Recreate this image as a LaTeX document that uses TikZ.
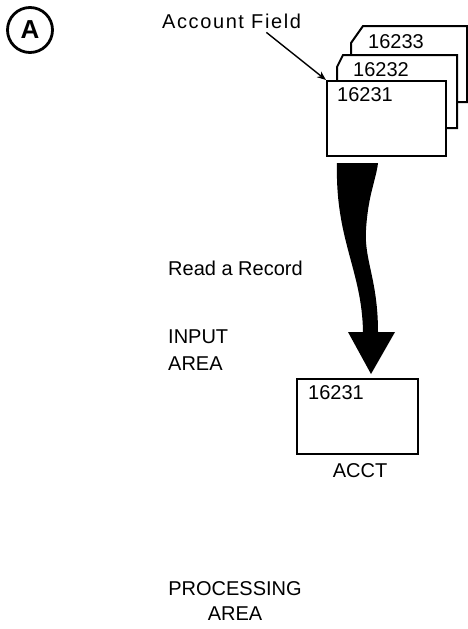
\documentclass[tikz,border=0pt]{standalone}
\usepackage{fontspec}
\setmainfont{Liberation Sans}
\usepackage{tikz}
\usetikzlibrary{calc,arrows.meta,positioning}

\tikzset{
  lbl/.style={inner sep=0pt, font=\fontsize{20}{25}\selectfont},
  cardline/.style={line width=2pt, fill=white, draw=black},
}

\begin{document}
\begin{tikzpicture}[x=1pt, y=-1pt]
    \useasboundingbox (0,0) rectangle (468,629);
    % tag
    \node[circle, draw, line width=2.8pt, minimum size=45pt, inner sep=0pt,
          font=\fontsize{26}{26}\selectfont\bfseries] (tag) at (30,30) {A};
    \node[lbl, anchor=base west] (acctfield) at (162,28)
        {\addfontfeature{LetterSpace=8}Account Field};
    % the deck of cards
    \draw[cardline] (351,102) -- (351,43) -- (363,26) -- (467,26) -- (467,102) -- cycle;
    \node[lbl, anchor=base west] (num3) at (368,48) {16233};
    \draw[cardline] (337,128) -- (337,67) -- (343,55) -- (457,55) -- (457,128) -- cycle;
    \node[lbl, anchor=base west] (num2) at (353,76) {16232};
    \node[cardline, anchor=north west, minimum width=119pt, minimum height=75pt,
          inner sep=0pt] (card1) at (326,80) {};
    \node[lbl, anchor=base west] (num1) at (337,101) {16231};
    \draw[line width=1.4pt, -{Stealth[length=9pt,width=7pt]}]
        ($(acctfield.south)!0.5!(acctfield.south east)+(0,4)$) -- (card1.north west);
    % read arrow
    \fill (337,163) .. controls (335,240) and (362,270) .. (363,332)
          -- (348,332) -- (371,374) -- (395,332) -- (378,332)
          .. controls (378,280) and (364,260) .. (366,230)
          .. controls (368,195) and (376,180) .. (378,163) -- cycle;
    \node[lbl, anchor=base west] (readrec) at (168,275) {Read a Record};
    \node[lbl, anchor=base west, align=left] (inarea) at (168,370) {INPUT\\[2pt]AREA};
    % input area
    \node[cardline, anchor=north west, minimum width=121pt, minimum height=75pt,
          inner sep=0pt] (acct) at (296,378) {};
    \node[lbl, anchor=base west] (acctnum) at (308,399) {16231};
    \node[lbl, anchor=base] (acctname) at (360,477) {ACCT};
    % processing area
    \node[lbl, anchor=base, align=center] (procarea) at (235,620) {PROCESSING\\AREA};
\end{tikzpicture}
\end{document}
